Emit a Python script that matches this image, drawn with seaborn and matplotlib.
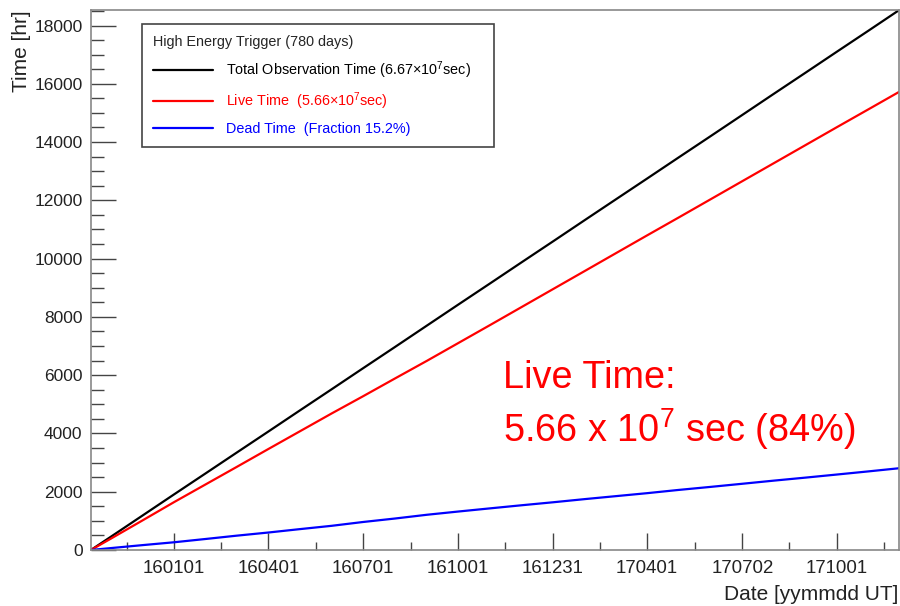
import numpy as np
import pandas as pd
import matplotlib
matplotlib.use("Agg")
import matplotlib.pyplot as plt
import matplotlib.dates as mdates
from matplotlib.lines import Line2D
import seaborn as sns

# ---- data ----
dates = ["151013", "151101", "151201", "160101", "160201", "160301", "160401",
         "160501", "160601", "160701", "160801", "160901", "161001", "161101",
         "161201", "170101", "170201", "170301", "170401", "170501", "170601",
         "170701", "170801", "170901", "171001", "171101", "171130"]
total_hr = [0, 450, 1165, 1905, 2640, 3330, 4065, 4780, 5515, 6230, 6965, 7705,
            8420, 9155, 9870, 10605, 11345, 12010, 12745, 13460, 14195, 14910,
            15650, 16385, 17100, 17835, 18528]
live_hr = [0, 385, 1000, 1640, 2260, 2840, 3465, 4065, 4685, 5270, 5885, 6495,
           7100, 7725, 8335, 8965, 9595, 10165, 10795, 11400, 12030, 12640,
           13270, 13900, 14510, 15135, 15722]
dead_hr = [0, 65, 165, 265, 380, 490, 600, 715, 830, 960, 1080, 1210, 1320,
           1430, 1535, 1640, 1750, 1845, 1950, 2060, 2165, 2270, 2380, 2485,
           2590, 2700, 2806]
tick_labels = ["160101", "160401", "160701", "161001", "161231", "170401",
               "170702", "171001"]
series_names = ["Total Observation Time (6.67\u00d710$^{7}$sec)",
                "Live Time  (5.66\u00d710$^{7}$sec)",
                "Dead Time  (Fraction 15.2%)"]
series_colors = ["#000000", "#ff0000", "#0000ff"]
legend_title = "High Energy Trigger (780 days)"
note_line1 = "Live Time:"
note_line2 = "5.66 x 10$^{7}$ sec (84%)"

# ---- style ----
sns.set_theme(style="white")
plt.rcParams["font.family"] = ["Liberation Sans", "DejaVu Sans"]
plt.rcParams["mathtext.fontset"] = "custom"
plt.rcParams["mathtext.rm"] = "Liberation Sans"
plt.rcParams["mathtext.it"] = "Liberation Sans:italic"
plt.rcParams["mathtext.bf"] = "Liberation Sans:bold"

t = pd.to_datetime(dates, format="%y%m%d")
df = pd.DataFrame({
    "date": np.tile(t, 3),
    "hours": np.concatenate([total_hr, live_hr, dead_hr]),
    "series": np.repeat(series_names, len(dates)),
})

fig = plt.figure(figsize=(9, 6.06), dpi=100)
fig.patch.set_facecolor("white")
ax = fig.add_axes([0.101, 0.0924, 0.898, 0.891])
sns.lineplot(data=df, x="date", y="hours", hue="series", hue_order=series_names,
             palette=series_colors, linewidth=1.6, ax=ax, legend=False,
             estimator=None, sort=False)

ax.set_xlim(t[0], t[-1])
ax.set_ylim(0, 18530)

# x ticks
major = mdates.date2num(pd.to_datetime(tick_labels, format="%y%m%d"))
step = np.mean(np.diff(major))
x0, x1 = mdates.date2num(t[0]), mdates.date2num(t[-1])
minor = np.arange(major[0] - step / 2, x1, step)
minor = minor[(minor > x0) & (minor < x1)]
ax.set_xticks(major)
ax.set_xticklabels(tick_labels)
ax.set_xticks(minor, minor=True)

# y ticks
ax.set_yticks(np.arange(0, 18001, 2000))
ax.set_yticks(np.arange(0, 18530, 500), minor=True)

ax.tick_params(axis="x", which="major", direction="in", length=12, width=1.0,
               color="#444444", labelsize=13.4, pad=7, labelcolor="#222222")
ax.tick_params(axis="x", which="minor", direction="in", length=6, width=1.0,
               color="#444444")
ax.tick_params(axis="y", which="major", direction="in", length=18, width=1.0,
               color="#444444", labelsize=12.5, pad=6, labelcolor="#222222")
ax.tick_params(axis="y", which="minor", direction="in", length=9, width=1.0,
               color="#444444")
ax.tick_params(bottom=True, left=True, top=False, right=False, which="both")

for s in ax.spines.values():
    s.set_color("#888888")
    s.set_linewidth(1.2)

ax.set_xlabel("Date [yymmdd UT]", loc="right", fontsize=15, color="#222222")
ax.set_ylabel("Time [hr]", loc="top", fontsize=15, color="#222222")
ax.xaxis.set_label_coords(0.999, -0.064)
ax.yaxis.set_label_coords(-0.0745, 1.0)

handles = [Line2D([], [], color=c, lw=1.6) for c in series_colors]
leg = ax.legend(handles, series_names, title=legend_title, loc="upper left",
                bbox_to_anchor=(0.063, 0.974, 0.436, 0), mode="expand",
                fontsize=10.4, title_fontsize=10.4, alignment="left",
                handlelength=4.2, handletextpad=0.9, labelspacing=0.7,
                borderpad=0.75, fancybox=False, framealpha=1,
                edgecolor="#444444", borderaxespad=0)
leg.get_frame().set_linewidth(1.2)
for txt, col in zip(leg.get_texts(), series_colors):
    txt.set_color(col)

fig.text(503 / 900, 1 - 388 / 606, note_line1, fontsize=27.3, color="#ff0000",
         va="baseline", ha="left")
fig.text(503 / 900, 1 - 442 / 606, note_line2, fontsize=27.3, color="#ff0000",
         va="baseline", ha="left")

fig.savefig("out.png", dpi=100, facecolor="white")
